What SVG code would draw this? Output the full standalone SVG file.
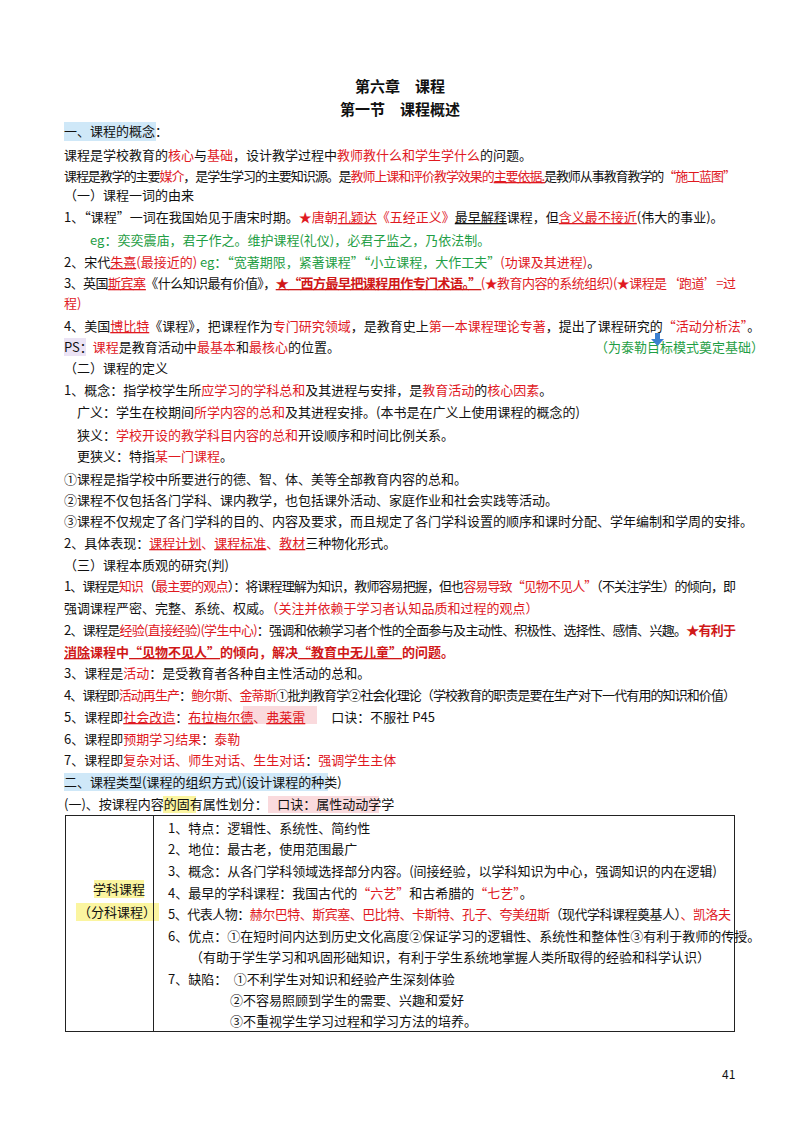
<svg xmlns="http://www.w3.org/2000/svg" width="800" height="1130" viewBox="0 0 800 1130">
<style>
text{font-family:"Noto Sans CJK SC","Noto Sans",sans-serif;font-size:13px;fill:#111}
.t{font-size:15px;font-weight:bold}
.r{fill:#e0191f}
.g{fill:#1f9e45}
.u{text-decoration:underline}
.b{fill:#d01818;font-weight:bold}
</style>
<rect width="800" height="1130" fill="#fff"/>
<g id="highlights">
<rect x="64" y="122" width="92" height="19" fill="#cfe8f8"/>
<rect x="64" y="338" width="22" height="18" fill="#ebe3f5"/>
<rect x="243" y="706" width="74" height="18" fill="#fadadd"/>
<rect x="64" y="773" width="264" height="18" fill="#cfe8f8"/>
<rect x="163" y="796" width="33" height="17" fill="#fbf5a0"/>
<rect x="268" y="796" width="111" height="17" fill="#fadadd"/>
<rect x="94" y="880" width="50" height="18" fill="#fbf5a0"/>
<rect x="76" y="903" width="83" height="18" fill="#fbf5a0"/>
</g>
<g id="title">
<text class="t" x="400" y="92" text-anchor="middle">第六章　课程</text>
<text class="t" x="400" y="115" text-anchor="middle">第一节　课程概述</text>
</g>
<g id="body">
<text x="64" y="136">一、课程的概念：</text>
<text x="64" y="160">课程是学校教育的<tspan class="r">核心</tspan>与<tspan class="r">基础</tspan>，设计教学过程中<tspan class="r">教师教什么和学生学什么</tspan>的问题。</text>
<text x="64" y="181" textLength="672" lengthAdjust="spacing">课程是教学的主要<tspan class="r">媒介</tspan>，是学生学习的主要知识源。是<tspan class="r">教师上课和评价教学效果的</tspan><tspan class="r u">主要依据.</tspan>是教师从事教育教学的<tspan class="r">“施工蓝图”</tspan></text>
<text x="64" y="200">（一）课程一词的由来</text>
<text x="64" y="222">1、“课程”一词在我国始见于唐宋时期。<tspan class="r">★唐朝</tspan><tspan class="r u">孔颖达</tspan><tspan class="r">《五经正义》</tspan><tspan class="u">最早解释</tspan>课程，但<tspan class="r u">含义最不接近</tspan>(伟大的事业)。</text>
<text x="90" y="245" class="g">eg：奕奕震庙，君子作之。维护课程(礼仪)，必君子监之，乃依法制。</text>
<text x="64" y="267">2、宋代<tspan class="r u">朱熹</tspan><tspan class="r">(最接近的)</tspan> <tspan class="g">eg：“宽著期限，紧著课程”“小立课程，大作工夫”</tspan><tspan class="r">(功课及其进程)</tspan>。</text>
<text x="64" y="288" textLength="672" lengthAdjust="spacing">3、英国<tspan class="r u">斯宾塞</tspan>《什么知识最有价值》，<tspan class="b u">★“西方最早把课程用作专门术语。”</tspan><tspan class="r">(★教育内容的系统组织)(★课程是‘跑道’=过</tspan></text>
<text x="64" y="308" class="r">程)</text>
<text x="64" y="331">4、美国<tspan class="r u">博比特</tspan>《课程》，把课程作为<tspan class="r">专门研究领域</tspan>，是教育史上<tspan class="r">第一本课程理论专著</tspan>，提出了课程研究的<tspan class="r">“活动分析法”</tspan>。</text>
<text x="64" y="352">PS：<tspan class="r">课程</tspan>是教育活动中<tspan class="r">最基本</tspan>和<tspan class="r">最核心</tspan>的位置。</text>
<text x="595" y="352" class="g">（为泰勒目标模式奠定基础）</text>
<text x="64" y="373">（二）课程的定义</text>
<text x="64" y="395">1、概念：指学校学生所<tspan class="r">应学习的学科总和</tspan>及其进程与安排，是<tspan class="r">教育活动</tspan>的<tspan class="r">核心因素</tspan>。</text>
<text x="77" y="417">广义：学生在校期间<tspan class="r">所学内容的总和</tspan>及其进程安排。(本书是在广义上使用课程的概念的)</text>
<text x="77" y="440">狭义：<tspan class="r">学校开设的教学科目内容的总和</tspan>开设顺序和时间比例关系。</text>
<text x="77" y="461">更狭义：特指<tspan class="r">某一门课程</tspan>。</text>
<text x="64" y="484">①课程是指学校中所要进行的德、智、体、美等全部教育内容的总和。</text>
<text x="64" y="505">②课程不仅包括各门学科、课内教学，也包括课外活动、家庭作业和社会实践等活动。</text>
<text x="64" y="526">③课程不仅规定了各门学科的目的、内容及要求，而且规定了各门学科设置的顺序和课时分配、学年编制和学周的安排。</text>
<text x="64" y="548">2、具体表现：<tspan class="r u">课程计划</tspan><tspan class="r">、</tspan><tspan class="r u">课程标准</tspan><tspan class="r">、</tspan><tspan class="r u">教材</tspan>三种物化形式。</text>
<text x="64" y="570">（三）课程本质观的研究(判)</text>
<text x="64" y="591" textLength="672" lengthAdjust="spacing">1、课程是<tspan class="r">知识</tspan>（<tspan class="r">最主要的观点</tspan>）：将课程理解为知识，教师容易把握，但也<tspan class="r">容易导致“见物不见人”</tspan>（不关注学生）的倾向，即</text>
<text x="64" y="613">强调课程严密、完整、系统、权威。<tspan class="r">（关注并依赖于学习者认知品质和过程的观点）</tspan></text>
<text x="64" y="635" textLength="672" lengthAdjust="spacing">2、课程是<tspan class="r">经验</tspan><tspan class="r">(直接经验)</tspan><tspan class="r">(学生中心)</tspan>：强调和依赖学习者个性的全面参与及主动性、积极性、选择性、感情、兴趣。<tspan class="b">★有利于</tspan></text>
<text x="64" y="657" class="b"><tspan class="u">消除</tspan>课程中<tspan class="u">“见物不见人”</tspan>的倾向，解决<tspan class="u">“教育中无儿童”</tspan>的问题。</text>
<text x="64" y="678">3、课程是<tspan class="r">活动</tspan>：是受教育者各种自主性活动的总和。</text>
<text x="64" y="700" textLength="672" lengthAdjust="spacing">4、课程即<tspan class="r">活动再生产</tspan>：<tspan class="r">鲍尔斯、金蒂斯</tspan>①批判教育学②社会化理论（学校教育的职责是要在生产对下一代有用的知识和价值）</text>
<text x="64" y="722">5、课程即<tspan class="r u">社会改造</tspan>：<tspan class="r u">布拉梅尔德</tspan><tspan class="r">、</tspan><tspan class="r u">弗莱雷</tspan>　　口诀：不服社 P45</text>
<text x="64" y="744">6、课程即<tspan class="r">预期学习结果</tspan>：<tspan class="r">泰勒</tspan></text>
<text x="64" y="765">7、课程即<tspan class="r">复杂对话、师生对话、生生对话</tspan>：<tspan class="r">强调学生主体</tspan></text>
<text x="64" y="787">二、课程类型(课程的组织方式)(设计课程的种类)</text>
<text x="64" y="809">(一)、按课程内容的固有属性划分：　 口诀：属性动动学学</text>
</g>
<g id="arrow">
<rect x="655" y="333" width="5" height="6" fill="#3b7fd0"/>
<polygon points="651,339 664,339 657.5,346" fill="#3b7fd0"/>
</g>
<g id="table">
<rect x="65.5" y="815.5" width="669" height="216" fill="none" stroke="#222" stroke-width="1"/>
<line x1="153.5" y1="815.5" x2="153.5" y2="1031.5" stroke="#222" stroke-width="1"/>
<text x="119" y="894" text-anchor="middle">学科课程</text>
<text x="117" y="917" text-anchor="middle">（分科课程）</text>
<text x="168" y="833">1、特点：逻辑性、系统性、简约性</text>
<text x="168" y="854">2、地位：最古老，使用范围最广</text>
<text x="168" y="876">3、概念：从各门学科领域选择部分内容。(间接经验，以学科知识为中心，强调知识的内在逻辑)</text>
<text x="168" y="898">4、最早的学科课程：我国古代的<tspan class="r">“六艺”</tspan>和古希腊的<tspan class="r">“七艺”</tspan>。</text>
<text x="168" y="919" textLength="563" lengthAdjust="spacing">5、代表人物：<tspan class="r">赫尔巴特、斯宾塞、巴比特、卡斯特、孔子、夸美纽斯</tspan>（现代学科课程奠基人）<tspan class="r">、凯洛夫</tspan></text>
<text x="168" y="941">6、优点：①在短时间内达到历史文化高度②保证学习的逻辑性、系统性和整体性③有利于教师的传授。</text>
<text x="190" y="962">（有助于学生学习和巩固形础知识，有利于学生系统地掌握人类所取得的经验和科学认识）</text>
<text x="168" y="984">7、缺陷：　①不利学生对知识和经验产生深刻体验</text>
<text x="230" y="1005">②不容易照顾到学生的需要、兴趣和爱好</text>
<text x="230" y="1026">③不重视学生学习过程和学习方法的培养。</text>
</g>
<text x="722" y="1079" style="font-size:12px">41</text>
</svg>
